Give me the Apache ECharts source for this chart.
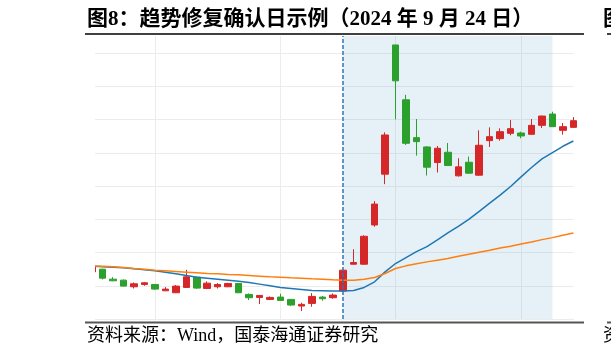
<!DOCTYPE html>
<html>
<head>
<meta charset="utf-8">
<style>
  html, body { margin: 0; padding: 0; background: #fff; }
  #chart { width: 611px; height: 357px; }
</style>
<script src="https://cdn.jsdelivr.net/npm/echarts@6/dist/echarts.min.js"></script>
</head>
<body>
<div id="chart"></div>
<script>
// 交易日
var dates = [
  '2024-08-19', '2024-08-20', '2024-08-21', '2024-08-22', '2024-08-23',
  '2024-08-26', '2024-08-27', '2024-08-28', '2024-08-29', '2024-08-30',
  '2024-09-02', '2024-09-03', '2024-09-04', '2024-09-05', '2024-09-06',
  '2024-09-09', '2024-09-10', '2024-09-11', '2024-09-12', '2024-09-13',
  '2024-09-18', '2024-09-19', '2024-09-20', '2024-09-23', '2024-09-24',
  '2024-09-25', '2024-09-26', '2024-09-27', '2024-09-30', '2024-10-08',
  '2024-10-09', '2024-10-10', '2024-10-11', '2024-10-14', '2024-10-15',
  '2024-10-16', '2024-10-17', '2024-10-18', '2024-10-21', '2024-10-22',
  '2024-10-23', '2024-10-24', '2024-10-25', '2024-10-28', '2024-10-29',
  '2024-10-30', '2024-10-31'
];
// K线 [开, 收, 低, 高]
var ohlc = [
  [1642, 1657, 1639, 1663], [1650, 1623, 1619, 1651], [1620, 1615, 1614, 1626],
  [1617, 1599, 1598, 1619], [1597, 1606, 1592, 1610], [1604, 1609, 1600, 1611],
  [1604, 1590, 1588, 1605], [1585, 1590, 1584, 1596], [1579, 1599, 1578, 1602],
  [1595, 1627, 1594, 1648], [1626, 1593, 1591, 1627], [1592, 1608, 1590, 1613],
  [1597, 1604, 1592, 1608], [1597, 1607, 1596, 1609], [1607, 1579, 1578, 1608],
  [1574, 1564, 1557, 1577], [1565, 1571, 1545, 1572], [1559, 1565, 1557, 1568],
  [1566, 1556, 1555, 1576], [1559, 1542, 1540, 1560], [1539, 1544, 1524, 1549],
  [1547, 1568, 1537, 1578], [1566, 1561, 1555, 1569], [1564, 1572, 1561, 1577],
  [1584, 1647, 1582, 1648], [1665, 1670, 1664, 1710], [1665, 1749, 1663, 1752],
  [1783, 1846, 1778, 1855], [1936, 2054, 1906, 2062], [2325, 2217, 2101, 2325],
  [2160, 2029, 2024, 2175], [2046, 2034, 1992, 2102], [2018, 1957, 1932, 2020],
  [1971, 2014, 1941, 2021], [2002, 1962, 1961, 2030], [1931, 1958, 1929, 1984],
  [1972, 1939, 1937, 1989], [1933, 2023, 1931, 2068], [2037, 2049, 2018, 2077],
  [2043, 2064, 2037, 2074], [2059, 2073, 2053, 2099], [2060, 2051, 2044, 2064],
  [2056, 2083, 2055, 2102], [2083, 2111, 2075, 2112], [2117, 2079, 2078, 2124],
  [2068, 2079, 2055, 2090], [2077, 2097, 2076, 2108]
];
// 均线（蓝：短期，橙：长期）
var maShort = [
  1659, 1657, 1656, 1654, 1651, 1648, 1645, 1641, 1636, 1631,
  1626, 1623, 1620, 1617, 1614, 1610, 1605, 1600, 1595, 1592,
  1589, 1586, 1585, 1584, 1584, 1586, 1595, 1612, 1642, 1667,
  1685, 1703, 1718, 1738, 1759, 1779, 1800, 1824, 1849, 1873,
  1899, 1928, 1956, 1982, 2001, 2020, 2036
];
var maLong = [
  1660, 1659, 1657, 1655, 1652, 1650, 1647, 1645, 1643, 1641,
  1639, 1637, 1636, 1634, 1633, 1631, 1629, 1627, 1626, 1624,
  1623, 1621, 1620, 1618, 1617, 1617, 1620, 1625, 1637, 1652,
  1660, 1666, 1672, 1677, 1682, 1689, 1695, 1701, 1707, 1714,
  1719, 1726, 1732, 1739, 1745, 1752, 1759
];
var confirmDate = '2024-09-24';   // 确认日（虚线）
var shadeEnd = '2024-10-29';      // 阴影区结束
var gridDates = ['2024-08-27', '2024-09-12', '2024-10-08', '2024-10-24'];

var title = '图8：趋势修复确认日示例（2024 年 9 月 24 日）';
var source = '资料来源：Wind，国泰海通证券研究';

var idx = function (d) { return dates.indexOf(d); };

var chart = echarts.init(document.getElementById('chart'), null, { renderer: 'canvas' });

chart.setOption({
  backgroundColor: '#ffffff',
  animation: false,
  grid: { left: 95, right: 37, top: 36, bottom: 38 },
  xAxis: {
    type: 'value',
    min: 0.27,
    max: 46.06,
    axisLine: { show: false },
    axisTick: { show: false },
    axisLabel: { show: false },
    splitLine: { show: false }
  },
  yAxis: {
    type: 'value',
    min: 1500,
    max: 2352,
    interval: 100,
    axisLine: { show: false },
    axisTick: { show: false },
    axisLabel: { show: false },
    splitLine: { showMaxLine: false, lineStyle: { color: '#ececec', width: 1 } }
  },
  series: [
    {
      // 竖向网格线
      type: 'line',
      data: [],
      z: 0,
      silent: true,
      markLine: {
        z: 0,
        silent: true,
        symbol: 'none',
        label: { show: false },
        lineStyle: { color: '#ececec', width: 1, type: 'solid' },
        data: gridDates.map(function (d) { return { xAxis: idx(d) }; })
      }
    },
    {
      type: 'candlestick',
      z: 2,
      clip: true,
      barWidth: 7,
      data: ohlc.map(function (d, i) { return [i].concat(d); }),
      encode: { x: 0, y: [1, 2, 3, 4] },
      itemStyle: {
        color: '#d62728',
        color0: '#2ca02c',
        borderColor: '#d62728',
        borderColor0: '#2ca02c',
        borderWidth: 1
      },
      markArea: {
        z: 1,
        silent: true,
        itemStyle: { color: 'rgba(31,119,180,0.11)' },
        data: [[{ xAxis: idx(confirmDate) }, { xAxis: idx(shadeEnd) }]]
      }
    },
    {
      type: 'line',
      z: 3,
      clip: true,
      data: maShort.map(function (v, i) { return [i, v]; }),
      showSymbol: false,
      lineStyle: { color: '#1f77b4', width: 1.5 }
    },
    {
      type: 'line',
      z: 3,
      clip: true,
      data: maLong.map(function (v, i) { return [i, v]; }),
      showSymbol: false,
      lineStyle: { color: '#ff7f0e', width: 1.5 }
    },
    {
      // 确认日虚线
      type: 'line',
      data: [],
      z: 4,
      markLine: {
        z: 5,
        silent: true,
        symbol: 'none',
        label: { show: false },
        lineStyle: { color: '#2e75b6', width: 1.5, type: [4, 2] },
        data: [{ xAxis: idx(confirmDate) }]
      }
    }
  ],
  graphic: [
    // 左侧遮挡超出绘图区的部分
    { type: 'rect', z: 100, shape: { x: 0, y: 35, width: 95, height: 286 }, style: { fill: '#fff' } },
    {
      type: 'text', x: 87, y: 20, z: 101,
      style: {
        text: title, fill: '#000', verticalAlign: 'middle',
        font: 'bold 21px "Liberation Serif", "Noto Sans CJK SC"'
      }
    },
    {
      type: 'text', x: 603, y: 20, z: 101,
      style: {
        text: '图', fill: '#000', verticalAlign: 'middle',
        font: 'bold 21px "Liberation Serif", "Noto Sans CJK SC"'
      }
    },
    { type: 'line', z: 101, shape: { x1: 85, y1: 34, x2: 584, y2: 34 }, style: { stroke: '#000', lineWidth: 1.5 } },
    { type: 'line', z: 101, shape: { x1: 607, y1: 34, x2: 611, y2: 34 }, style: { stroke: '#000', lineWidth: 1.5 } },
    { type: 'line', z: 101, shape: { x1: 85, y1: 322.5, x2: 584, y2: 322.5 }, style: { stroke: '#555', lineWidth: 2 } },
    { type: 'line', z: 101, shape: { x1: 607, y1: 322.5, x2: 611, y2: 322.5 }, style: { stroke: '#555', lineWidth: 2 } },
    {
      type: 'text', x: 87, y: 336, z: 101,
      style: {
        text: source, fill: '#000', verticalAlign: 'middle',
        font: '18px "Liberation Serif", "Noto Sans CJK SC"'
      }
    },
    {
      type: 'text', x: 603, y: 336, z: 101,
      style: {
        text: '资', fill: '#000', verticalAlign: 'middle',
        font: '18px "Liberation Serif", "Noto Sans CJK SC"'
      }
    }
  ]
});
</script>
</body>
</html>
